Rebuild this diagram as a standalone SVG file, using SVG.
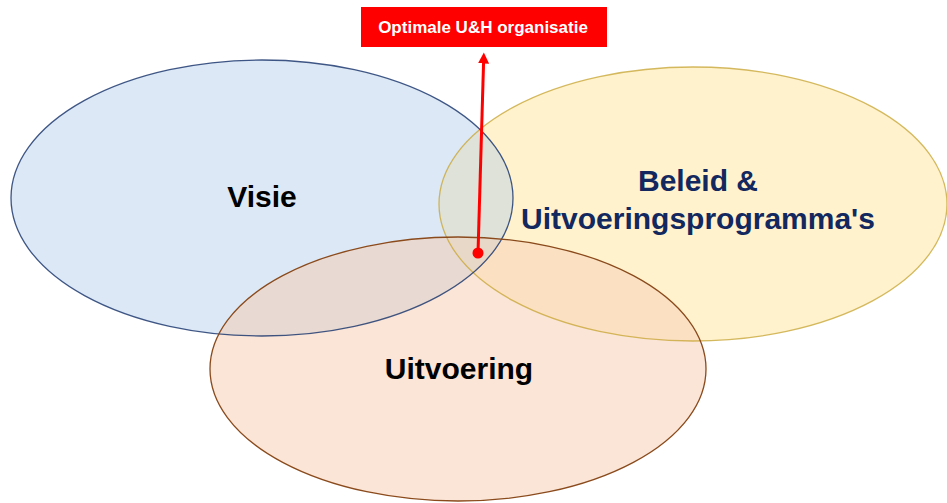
<svg xmlns="http://www.w3.org/2000/svg" width="947" height="503" viewBox="0 0 947 503">
<style>
.lbl{font-family:"Liberation Sans",Arial,sans-serif;font-weight:bold;text-anchor:middle}
.edge{fill:none;stroke-width:1.3}
</style>
<defs>
<ellipse id="eV" cx="262" cy="198" rx="251" ry="138"/>
<ellipse id="eB" cx="693" cy="204" rx="254" ry="137"/>
<ellipse id="eU" cx="458" cy="369" rx="248" ry="132"/>
<clipPath id="cV"><use href="#eV"/></clipPath>
<clipPath id="cB"><use href="#eB"/></clipPath>
<clipPath id="cU"><use href="#eU"/></clipPath>
<marker id="ah" markerWidth="11" markerHeight="11" refX="5" refY="5" orient="auto" markerUnits="userSpaceOnUse" viewBox="0 0 10 10">
<path d="M0,0 L10,5 L0,10 Z" fill="#ff0000"/>
</marker>
</defs>
<rect width="947" height="503" fill="#ffffff"/>
<g id="beleid">
<use href="#eB" fill="#fff2cc"/>
</g>
<g id="visie">
<use href="#eV" fill="#dce8f5"/>
</g>
<g id="uitvoering">
<use href="#eU" fill="#fbe5d6"/>
</g>
<g id="overlaps">
<g clip-path="url(#cV)"><use href="#eB" fill="#dee2d8"/></g>
<g clip-path="url(#cV)"><use href="#eU" fill="#e8dad2"/></g>
<g clip-path="url(#cB)"><use href="#eU" fill="#fbe0c2"/></g>
<g clip-path="url(#cV)"><g clip-path="url(#cB)"><use href="#eU" fill="#e8d8c8"/></g></g>
</g>
<g id="outlines">
<use href="#eB" class="edge" stroke="#c9a73a" stroke-opacity="0.8"/>
<use href="#eV" class="edge" stroke="#1f3a70" stroke-opacity="0.85"/>
<use href="#eU" class="edge" stroke="#8a4a1c"/>
</g>
<g id="labels">
<text class="lbl" x="262" y="207" font-size="30" fill="#000000">Visie</text>
<text class="lbl" x="698" y="191" font-size="30" fill="#12285e">Beleid &amp;</text>
<text class="lbl" x="698" y="229" font-size="30" fill="#12285e">Uitvoeringsprogramma's</text>
<text class="lbl" x="459" y="379" font-size="30" fill="#000000">Uitvoering</text>
</g>
<g id="optimale">
<rect x="361" y="7" width="246" height="40" fill="#ff0000"/>
<text class="lbl" x="483" y="32.5" font-size="17" fill="#ffffff">Optimale U&amp;H organisatie</text>
</g>
<g id="connectors">
<line x1="478" y1="253" x2="483.7" y2="58" stroke="#ff0000" stroke-width="3" marker-end="url(#ah)"/>
<circle cx="478" cy="253" r="5.5" fill="#ff0000"/>
</g>
</svg>
